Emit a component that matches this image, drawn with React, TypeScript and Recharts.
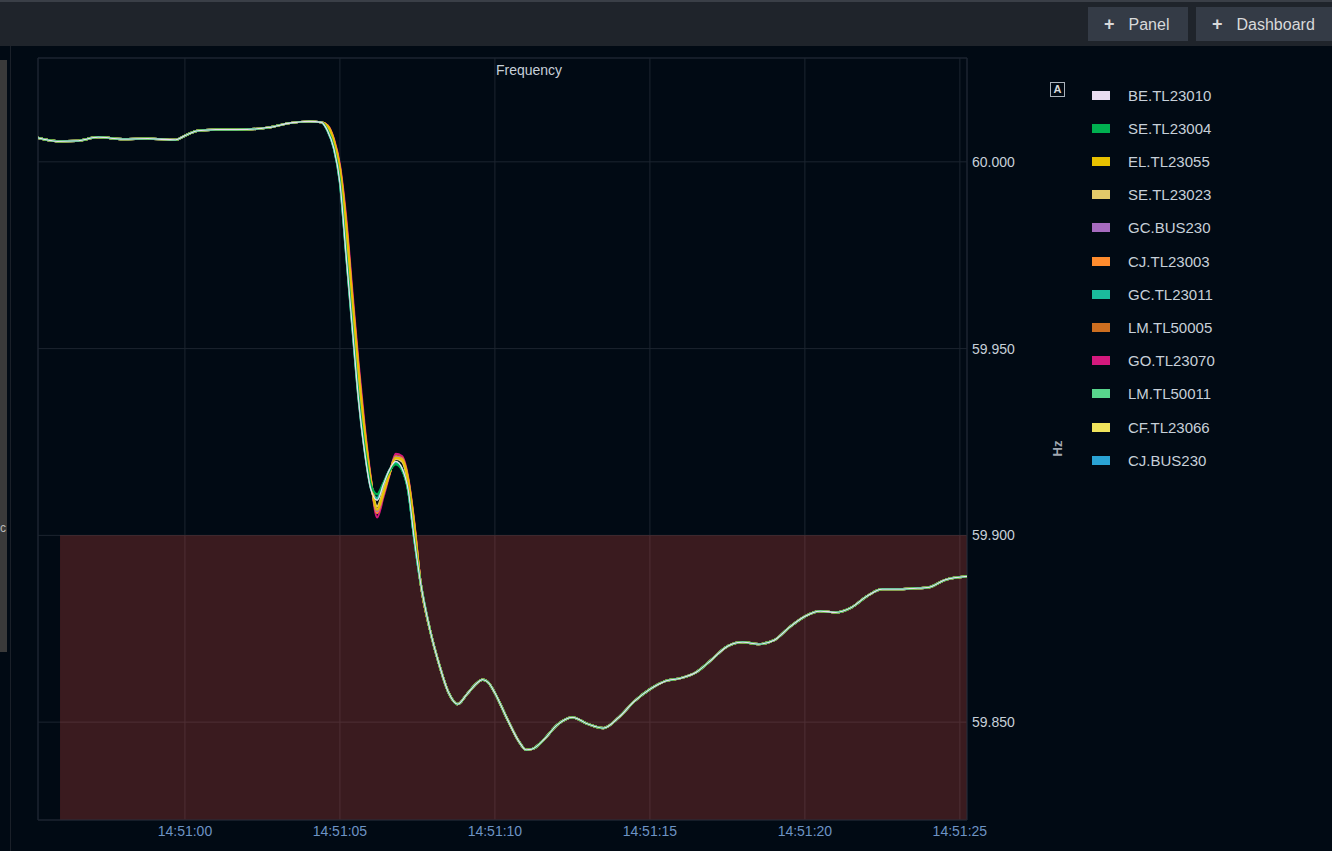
import { LineChart, Line, XAxis, YAxis, CartesianGrid, ReferenceArea } from "recharts";

// seconds relative to 14:51:00
const headTimes = [-4.74, -4.1, -3.5, -2.8, -2.0, -1.2, -0.3, 0.0, 0.4, 1.0, 2.0, 2.7, 3.4, 4.0, 4.4];
const dipTimes = [4.6, 4.8, 5.0, 5.2, 5.4, 5.6, 5.8, 6.0, 6.2, 6.4, 6.6, 6.8, 7.0, 7.2, 7.4];
const tailTimes = [
  7.6, 7.9, 8.2, 8.5, 8.8, 9.1, 9.4, 9.6, 9.8, 10.0, 10.4, 10.8, 11.0, 11.2, 11.6, 12.0, 12.5, 13.0,
  13.5, 14.0, 14.5, 15.0, 15.5, 16.0, 16.5, 17.0, 17.5, 18.0, 18.5, 19.0, 19.5, 20.0, 20.5, 21.0,
  21.5, 22.0, 22.5, 23.0, 23.5, 24.0, 24.5, 25.23,
];

const headValues = [
  60.0064, 60.0055, 60.0056, 60.0066, 60.0061, 60.0062, 60.0059, 60.007, 60.0083, 60.0086, 60.0087,
  60.0092, 60.0104, 60.0108, 60.0106,
];
const tailValues = [
  59.8874, 59.8749, 59.8655, 59.858, 59.8548, 59.8575, 59.8603, 59.8614, 59.8605, 59.8578, 59.8508,
  59.8445, 59.8426, 59.8428, 59.8455, 59.8492, 59.8513, 59.8495, 59.8484, 59.8513, 59.8556, 59.8588,
  59.861, 59.8618, 59.8634, 59.8668, 59.8703, 59.8714, 59.8709, 59.8719, 59.8754, 59.8783, 59.8797,
  59.8794, 59.8807, 59.8837, 59.8856, 59.8856, 59.8858, 59.8861, 59.888, 59.889,
];

// per-station values through the drop, where the traces separate
const dipBE = [60.0083, 60.0037, 59.9944, 59.975, 59.9556, 59.9364, 59.9222, 59.9123, 59.9094, 59.9136, 59.9176, 59.9198, 59.918, 59.9123, 59.8989];
const dipSE04 = [60.0085, 60.004, 59.995, 59.976, 59.9565, 59.9375, 59.9235, 59.9135, 59.911, 59.914, 59.9172, 59.919, 59.9175, 59.912, 59.899];
const dipEL = [60.0096, 60.0058, 59.9982, 59.983, 59.963, 59.944, 59.9275, 59.9145, 59.9068, 59.9112, 59.9165, 59.9208, 59.9203, 59.9148, 59.9025];
const dipSE23 = [60.0092, 60.0052, 59.997, 59.981, 59.961, 59.942, 59.926, 59.914, 59.9078, 59.912, 59.9168, 59.9205, 59.9198, 59.914, 59.9015];
const dipGCB = [60.0095, 60.0056, 59.998, 59.9825, 59.9625, 59.9435, 59.927, 59.9145, 59.9065, 59.9112, 59.9166, 59.921, 59.9204, 59.9148, 59.9025];
const dipCJ03 = [60.0097, 60.006, 59.9986, 59.984, 59.964, 59.945, 59.9282, 59.9148, 59.906, 59.911, 59.9165, 59.9211, 59.9206, 59.915, 59.903];
const dipGCT = [60.0084, 60.0038, 59.9946, 59.9755, 59.956, 59.937, 59.9228, 59.9128, 59.91, 59.9138, 59.9174, 59.9194, 59.9178, 59.9122, 59.899];
const dipLM05 = [60.0096, 60.0058, 59.9984, 59.9835, 59.9635, 59.9445, 59.9278, 59.9147, 59.9062, 59.911, 59.9166, 59.9212, 59.9207, 59.9152, 59.9028];
const dipGO = [60.0098, 60.0063, 59.9992, 59.9852, 59.9655, 59.9462, 59.9292, 59.9152, 59.9048, 59.9102, 59.9162, 59.9218, 59.9212, 59.9156, 59.9034];
const dipLM11 = [60.0083, 60.0038, 59.9945, 59.9752, 59.9558, 59.9366, 59.9225, 59.9125, 59.9096, 59.9136, 59.9175, 59.9197, 59.9179, 59.9123, 59.899];
const dipCF = [60.0094, 60.0055, 59.9976, 59.982, 59.962, 59.943, 59.9268, 59.9143, 59.907, 59.9114, 59.9166, 59.9207, 59.92, 59.9146, 59.902];
const dipCJB = [60.0086, 60.0042, 59.9952, 59.9765, 59.957, 59.938, 59.9238, 59.9132, 59.9098, 59.9136, 59.9173, 59.9195, 59.9178, 59.9122, 59.8992];

const series = [
  { name: "BE.TL23010", color: "#e8dcf0", dip: dipBE },
  { name: "SE.TL23004", color: "#00b050", dip: dipSE04 },
  { name: "EL.TL23055", color: "#e8c100", dip: dipEL },
  { name: "SE.TL23023", color: "#e2c96a", dip: dipSE23 },
  { name: "GC.BUS230", color: "#a66bbf", dip: dipGCB },
  { name: "CJ.TL23003", color: "#ff8c2e", dip: dipCJ03 },
  { name: "GC.TL23011", color: "#1abc9c", dip: dipGCT },
  { name: "LM.TL50005", color: "#cc6e20", dip: dipLM05 },
  { name: "GO.TL23070", color: "#d4197d", dip: dipGO },
  { name: "LM.TL50011", color: "#58d68d", dip: dipLM11 },
  { name: "CF.TL23066", color: "#f0e45c", dip: dipCF },
  { name: "CJ.BUS230", color: "#2aa3d4", dip: dipCJB },
];

const xTicks = [0, 5, 10, 15, 20, 25];
const yTicks = [59.85, 59.9, 59.95, 60.0];
const X_MIN = -4.74;
const X_MAX = 25.23;
const Y_MIN = 59.8238;
const Y_MAX = 60.0278;
const THRESHOLD = 59.9;
const THRESHOLD_START = -4.03;

const times = [...headTimes, ...dipTimes, ...tailTimes];
const data = times.map((t, i) => {
  const row: Record<string, number> = { t };
  series.forEach((s) => {
    const vals = [...headValues, ...s.dip, ...tailValues];
    row[s.name] = vals[i];
  });
  return row;
});

const FONT = '"Liberation Sans", Arial, Helvetica, sans-serif';
const TEXT = "#c7d0d9";

export default function App() {
  // lagging traces drawn first, leading light traces on top
  const drawOrder = [...series].reverse();
  return (
    <div style={{ position: "relative", width: 1332, height: 851, background: "#010a14", fontFamily: FONT, overflow: "hidden" }}>
      <style>{`body{margin:0;background:#010a14}`}</style>

      {/* top bar */}
      <div style={{ position: "absolute", left: 0, top: 0, width: 1332, height: 2, background: "#3a3f47" }} />
      <div style={{ position: "absolute", left: 0, top: 2, width: 1332, height: 44, background: "#1f242b" }} />
      {[
        { label: "Panel", left: 1088, width: 100 },
        { label: "Dashboard", left: 1196, width: 140 },
      ].map((b) => (
        <div
          key={b.label}
          style={{
            position: "absolute",
            left: b.left,
            top: 7,
            width: b.width,
            height: 34,
            background: "#343b46",
            color: "#d8d9da",
            fontSize: 16,
            lineHeight: "34px",
            paddingLeft: 16,
            boxSizing: "border-box",
            whiteSpace: "nowrap",
          }}
        >
          <span style={{ fontWeight: 700, fontSize: 18, marginRight: 14 }}>+</span>
          {b.label}
        </div>
      ))}

      {/* neighbouring panel sliver */}
      <div style={{ position: "absolute", left: 0, top: 60, width: 7, height: 592, background: "#3a3a3a" }} />
      <div style={{ position: "absolute", left: 0, top: 521, color: "#bbb", fontSize: 12 }}>c</div>
      <div style={{ position: "absolute", left: 10, top: 46, width: 1, height: 805, background: "#1a2029" }} />

      <div style={{ position: "absolute", left: 0, top: 0 }}>
        <LineChart width={1332} height={851} data={data} margin={{ top: 58, right: 285, bottom: 0, left: 38 }}>
          <CartesianGrid stroke="#1c2530" strokeWidth={1} />
          <XAxis
            dataKey="t"
            type="number"
            domain={[X_MIN, X_MAX]}
            allowDataOverflow
            ticks={xTicks}
            tickFormatter={(v: number) => `14:51:${String(v).padStart(2, "0")}`}
            height={31}
            axisLine={false}
            tickLine={false}
            tickSize={4}
            tick={{ fill: "#6d93c4", fontSize: 14, fontFamily: FONT }}
          />
          <YAxis
            orientation="right"
            type="number"
            domain={[Y_MIN, Y_MAX]}
            allowDataOverflow
            ticks={yTicks}
            tickFormatter={(v: number) => v.toFixed(3)}
            width={80}
            axisLine={false}
            tickLine={false}
            tickSize={3}
            tickMargin={2}
            tick={{ fill: TEXT, fontSize: 14, fontFamily: FONT }}
          />
          <ReferenceArea
            x1={THRESHOLD_START}
            x2={X_MAX}
            y1={Y_MIN}
            y2={THRESHOLD}
            fill="#e24d42"
            fillOpacity={0.26}
            stroke="none"
          />
          <ReferenceArea x1={X_MIN} x2={X_MAX} y1={Y_MIN} y2={Y_MAX} fill="none" stroke="#1c2530" />
          {drawOrder.map((s) => (
            <Line
              key={s.name}
              dataKey={s.name}
              type="monotone"
              stroke={s.color}
              strokeWidth={s.name === "BE.TL23010" ? 1.3 : 2.2}
              dot={false}
              isAnimationActive={false}
            />
          ))}
        </LineChart>
      </div>

      {/* title */}
      <div style={{ position: "absolute", left: 429, width: 200, top: 62, textAlign: "center", color: TEXT, fontSize: 14 }}>
        Frequency
      </div>

      {/* axis unit and toggle */}
      <div
        style={{
          position: "absolute",
          left: 1050,
          top: 82,
          width: 13,
          height: 13,
          border: "1px solid #aab2bb",
          color: "#d8d9da",
          fontSize: 11,
          fontWeight: 700,
          lineHeight: "13px",
          textAlign: "center",
        }}
      >
        A
      </div>
      <div
        style={{
          position: "absolute",
          left: 1037,
          top: 441,
          width: 40,
          textAlign: "center",
          color: "#a0a7b0",
          fontSize: 13,
          fontWeight: 700,
          transform: "rotate(-90deg)",
        }}
      >
        Hz
      </div>

      {/* legend */}
      {series.map((s, i) => (
        <div key={s.name} style={{ position: "absolute", left: 1092, top: 95 + i * 33.2 - 10, height: 20, display: "flex", alignItems: "center" }}>
          <div style={{ width: 18, height: 9, background: s.color }} />
          <div style={{ marginLeft: 18, color: TEXT, fontSize: 15 }}>{s.name}</div>
        </div>
      ))}
    </div>
  );
}
